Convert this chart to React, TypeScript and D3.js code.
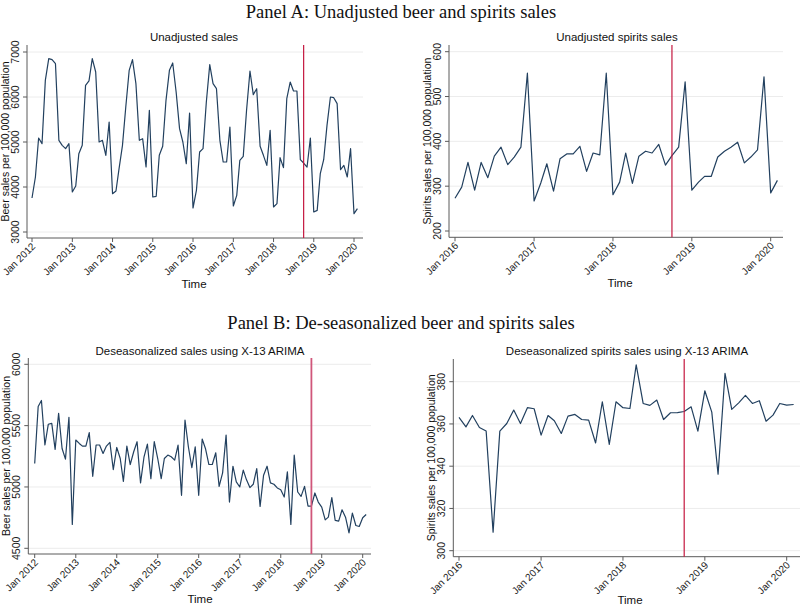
import React from "react";
import * as d3 from "d3";

// ---------- DATA ----------
const beerUnadj = [
  3756, 4222, 5089, 4963, 6370, 6852, 6830, 6740, 5037, 4926, 4852, 4963,
  3889, 4022, 4741, 4926, 6259, 6356, 6852, 6556, 5000, 5037, 4704, 5444,
  3852, 3911, 4407, 4926, 5778, 6593, 6830, 6296, 5037, 5074, 4444, 5704,
  3778, 3793, 4704, 4904, 5926, 6593, 6756, 6111, 5296, 5000, 4519, 5644,
  3533, 3926, 4778, 4852, 5889, 6719, 6296, 6185, 5037, 4556, 4556, 5333,
  3578, 3815, 4593, 4681, 5704, 6578, 6052, 6185, 4904, 4704, 4481, 5259,
  3556, 3630, 4652, 4430, 5963, 6333, 6133, 6133, 4607, 4533, 4444, 5089,
  3444, 3481, 4296, 4607, 5370, 6000, 5985, 5852, 4385, 4481, 4222, 4852,
  3407, 3519,
];

const spiritsUnadj = [
  273, 298, 353, 291, 353, 319, 367, 387, 348, 365, 387, 552,
  267, 307, 350, 289, 361, 372, 372, 389, 333, 374, 370, 552,
  281, 309, 374, 306, 367, 378, 374, 393, 347, 368, 387, 533,
  291, 309, 322, 322, 365, 378, 387, 398, 352, 365, 381, 544,
  285, 313,
];

const beerDeseas = [
  5191, 5656, 5705, 5342, 5511, 5519, 5306, 5601, 5314, 5227, 5568, 4694,
  5383, 5355, 5333, 5333, 5443, 5087, 5342, 5342, 5273, 5333, 5363, 5142,
  5322, 5232, 5046, 5333, 5183, 5287, 5369, 5033, 5246, 5350, 5068, 5369,
  5232, 5068, 5232, 5260, 5246, 5219, 5342, 4932, 5546, 5328, 5158, 5328,
  4932, 5391, 5314, 5183, 5183, 5279, 5005, 5115, 5423, 4877, 5169, 5041,
  5000, 5137, 5060, 4995, 5022, 5150, 4842, 5096, 5169, 5033, 5022, 4992,
  4978, 4918, 5123, 4694, 5260, 4959, 4923, 5005, 4844, 4844, 4951, 4877,
  4836, 4732, 4754, 4913, 4727, 4721, 4814, 4754, 4626, 4787, 4686, 4678,
  4749, 4776,
];

const spiritsDeseas = [
  363.1, 358.6, 364.0, 358.3, 356.7, 308.8, 356.6, 360.2, 366.6, 360.2, 367.7, 367.2,
  354.7, 364.0, 361.5, 355.5, 363.7, 364.5, 362.1, 361.8, 351.0, 370.5, 350.3, 370.5,
  367.7, 367.3, 388.0, 369.7, 368.8, 371.3, 362.1, 365.3, 365.4, 365.9, 368.1, 356.6,
  375.7, 365.6, 336.2, 384.0, 366.9, 370.0, 373.5, 369.7, 371.0, 361.3, 364.2, 369.7,
  368.9, 369.2,
];

const beerYTicks = [3000, 4000, 5000, 6000, 7000];
const spiritsYTicks = [200, 300, 400, 500, 600];
const beerDeseasYTicks = [4500, 5000, 5500, 6000];
const spiritsDeseasYTicks = [300, 320, 340, 360, 380];
const beerYears = [2012, 2013, 2014, 2015, 2016, 2017, 2018, 2019, 2020];
const spiritsYears = [2016, 2017, 2018, 2019, 2020];
const breakDate = new Date(2018, 9, 1);

// ---------- STYLE ----------
const LINE = "#22405f";
const AXIS = "#5a5a5a";
const GRID = "#ececec";
const SANS = "Liberation Sans, Arial, sans-serif";
const SERIF = "Liberation Serif, Times New Roman, serif";
const fmt = d3.timeFormat("%b %Y");

type PanelProps = {
  title: string;
  titlePos: [number, number];
  yLabel: string;
  data: number[];
  startYear: number;
  years: number[];
  yTicks: number[];
  xPix: [number, number];
  yPix: [number, number];
  axisLeft: number;
  axisBottom: number;
  axisTop: number;
  plotRight: number;
  timePos: [number, number];
  redColor: string;
  redWidth: number;
};

function Panel(p: PanelProps) {
  const x = d3
    .scaleTime()
    .domain([new Date(p.years[0], 0, 1), new Date(p.years[p.years.length - 1], 0, 1)])
    .range(p.xPix);
  const y = d3
    .scaleLinear()
    .domain([p.yTicks[0], p.yTicks[p.yTicks.length - 1]])
    .range(p.yPix);
  const pts = p.data.map((v, i) => ({ d: new Date(p.startYear, i, 1), v }));
  const line = d3
    .line<{ d: Date; v: number }>()
    .x((e) => x(e.d))
    .y((e) => y(e.v));
  const yMid = (p.axisTop + p.axisBottom) / 2;
  const rx = x(breakDate);
  return (
    <g>
      {p.yTicks.map((t) => (
        <line key={"g" + t} x1={p.axisLeft} x2={p.plotRight} y1={y(t)} y2={y(t)} stroke={GRID} strokeWidth={1} />
      ))}
      <line x1={p.axisLeft} x2={p.axisLeft} y1={p.axisTop} y2={p.axisBottom} stroke={AXIS} strokeWidth={1} />
      <line x1={p.axisLeft} x2={p.plotRight} y1={p.axisBottom} y2={p.axisBottom} stroke={AXIS} strokeWidth={1} />
      {p.yTicks.map((t) => (
        <g key={"yt" + t}>
          <line x1={p.axisLeft - 4} x2={p.axisLeft} y1={y(t)} y2={y(t)} stroke={AXIS} />
          <text
            transform={`translate(${p.axisLeft - 8},${y(t)}) rotate(-90)`}
            textAnchor="middle"
            fontFamily={SANS}
            fontSize={10.5}
            fill="#222"
          >
            {t}
          </text>
        </g>
      ))}
      {p.years.map((yr) => {
        const d = new Date(yr, 0, 1);
        const tx = x(d);
        return (
          <g key={"xt" + yr}>
            <line x1={tx} x2={tx} y1={p.axisBottom} y2={p.axisBottom + 4} stroke={AXIS} />
            <text
              transform={`translate(${tx + 4},${p.axisBottom + 9}) rotate(-45)`}
              textAnchor="end"
              fontFamily={SANS}
              fontSize={10}
              fill="#222"
            >
              {fmt(d)}
            </text>
          </g>
        );
      })}
      <path d={line(pts) || ""} fill="none" stroke={LINE} strokeWidth={1.2} strokeLinejoin="round" />
      <line x1={rx} x2={rx} y1={p.axisTop} y2={p.axisBottom} stroke={p.redColor} strokeWidth={p.redWidth} />
      <text x={p.titlePos[0]} y={p.titlePos[1] + 4} textAnchor="middle" fontFamily={SANS} fontSize={11.5} fill="#111">
        {p.title}
      </text>
      <text
        transform={`translate(${p.axisLeft - 18},${yMid}) rotate(-90)`}
        textAnchor="middle"
        fontFamily={SANS}
        fontSize={10.5}
        fill="#111"
      >
        {p.yLabel}
      </text>
      <text x={p.timePos[0]} y={p.timePos[1] + 4} textAnchor="middle" fontFamily={SANS} fontSize={11.5} fill="#111">
        Time
      </text>
    </g>
  );
}

export default function App() {
  return (
    <svg
      width={800}
      height={608}
      style={{ position: "absolute", left: 0, top: 0, background: "#fff" }}
    >
      <rect width={800} height={608} fill="#fff" />
      <text x={401} y={18} textAnchor="middle" fontFamily={SERIF} fontSize={18.5} fill="#111">
        Panel A: Unadjusted beer and spirits sales
      </text>
      <text x={401} y={329} textAnchor="middle" fontFamily={SERIF} fontSize={18.5} fill="#111">
        Panel B: De-seasonalized beer and spirits sales
      </text>
      <Panel
        title="Unadjusted sales"
        titlePos={[194, 37]}
        yLabel="Beer sales per 100,000 population"
        data={beerUnadj}
        startYear={2012}
        years={beerYears}
        yTicks={beerYTicks}
        xPix={[32, 354]}
        yPix={[232, 52]}
        axisLeft={27}
        axisBottom={238}
        axisTop={45}
        plotRight={363}
        timePos={[194, 284]}
        redColor="#c4173f"
        redWidth={1.2}
      />
      <Panel
        title="Unadjusted spirits sales"
        titlePos={[617, 37]}
        yLabel="Spirits sales per 100,000 population"
        data={spiritsUnadj}
        startYear={2016}
        years={spiritsYears}
        yTicks={spiritsYTicks}
        xPix={[455, 770.7]}
        yPix={[231, 51.7]}
        axisLeft={449}
        axisBottom={237.3}
        axisTop={45}
        plotRight={783}
        timePos={[620, 283]}
        redColor="#c4173f"
        redWidth={1.2}
      />
      <Panel
        title="Deseasonalized sales using X-13 ARIMA"
        titlePos={[200, 350.7]}
        yLabel="Beer sales per 100,000 population"
        data={beerDeseas}
        startYear={2012}
        years={beerYears}
        yTicks={beerDeseasYTicks}
        xPix={[34.7, 362.7]}
        yPix={[548.3, 364.3]}
        axisLeft={28.3}
        axisBottom={554}
        axisTop={358}
        plotRight={371}
        timePos={[200, 599]}
        redColor="#d0567a"
        redWidth={1.8}
      />
      <Panel
        title="Deseasonalized spirits sales using X-13 ARIMA"
        titlePos={[627, 350.7]}
        yLabel="Spirits sales per 100,000 population"
        data={spiritsDeseas}
        startYear={2016}
        years={spiritsYears}
        yTicks={spiritsDeseasYTicks}
        xPix={[459, 786.7]}
        yPix={[550.7, 381.7]}
        axisLeft={453.3}
        axisBottom={556.7}
        axisTop={359}
        plotRight={803}
        timePos={[630, 600]}
        redColor="#c4173f"
        redWidth={1.2}
      />
    </svg>
  );
}
